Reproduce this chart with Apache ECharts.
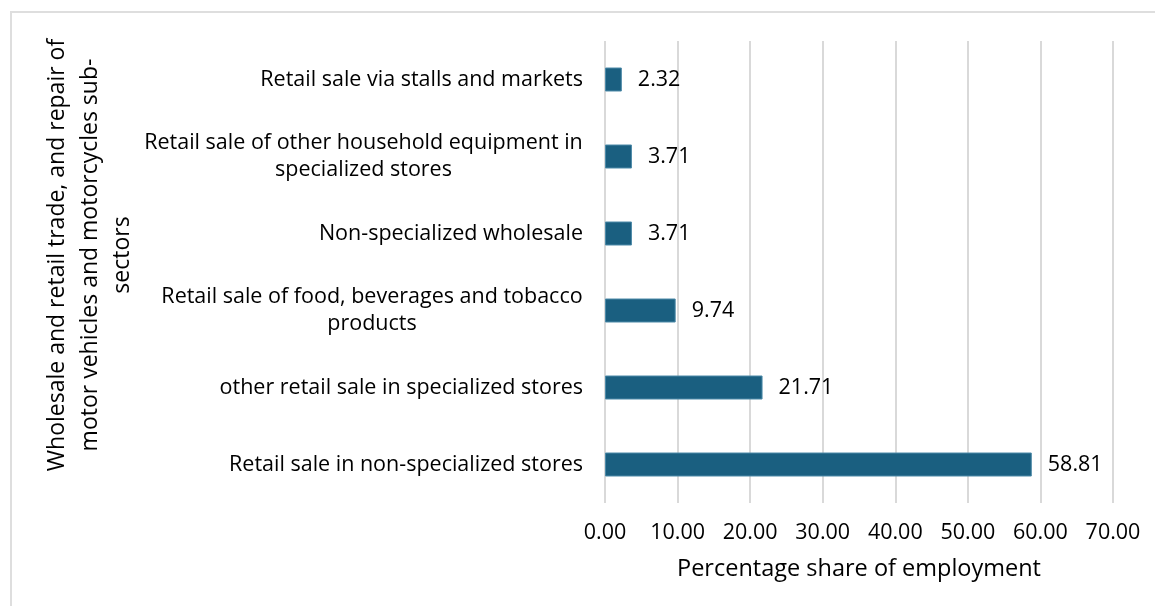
<!DOCTYPE html>
<html>
<head>
<meta charset="utf-8">
<style>
  html, body { margin: 0; padding: 0; background: #fff; overflow: hidden; }
  #frame { position: absolute; left: 10px; top: 11px; width: 1200px; height: 650px; border: 2px solid #dedede; box-sizing: border-box; }
  #chart { position: absolute; left: 0; top: 0; width: 1155px; height: 606px; }
</style>
<script src="https://cdn.jsdelivr.net/npm/echarts@6/dist/echarts.min.js"></script>
</head>
<body>
<div id="frame"></div>
<div id="chart"></div>
<script>
// categories bottom -> top (Excel draws first category at the bottom)
const categories = [
  'Retail sale in non-specialized stores',
  'other retail sale in specialized stores',
  'Retail sale of food, beverages and tobacco\nproducts',
  'Non-specialized wholesale',
  'Retail sale of other household equipment in\nspecialized stores',
  'Retail sale via stalls and markets'
]
const shares = [58.81, 21.71, 9.74, 3.71, 3.71, 2.32]
const xName = 'Percentage share of employment'
const yName = 'Wholesale and retail trade, and repair of\nmotor vehicles and motorcycles sub-\nsectors'

const FONT = 'Open Sans, Liberation Sans, sans-serif'
const labelSize = 21.5

// multi-line labels are centred inside their block, block sits right-aligned
const ctx = document.createElement('canvas').getContext('2d')
ctx.font = labelSize + 'px ' + FONT
const rich = {}
const labelText = {}
categories.forEach((c, i) =>
{
  const lines = c.split('\n')
  if (lines.length === 1)
  {
    labelText[c] = c
    return
  }
  const w = Math.ceil(Math.max(...lines.map(l => ctx.measureText(l).width)))
  rich['l' + i] = { width: w, align: 'center', fontSize: labelSize, fontFamily: FONT, color: '#000', lineHeight: 27 }
  labelText[c] = lines.map(l => '{l' + i + '|' + l + '}').join('\n')
})

const chart = echarts.init(document.getElementById('chart'))
chart.setOption({
  animation: false,
  grid: { left: 605, right: 42, top: 41, bottom: 103, outerBoundsMode: 'none', containLabel: false },
  xAxis: {
    type: 'value',
    min: 0,
    max: 70,
    interval: 10,
    name: xName,
    nameLocation: 'middle',
    nameGap: 54,
    nameTextStyle: { fontSize: 23.5, color: '#000', fontFamily: FONT },
    axisLine: { show: false },
    axisTick: { show: false },
    axisLabel: {
      fontSize: labelSize,
      color: '#000',
      fontFamily: FONT,
      margin: 19,
      formatter: v => v.toFixed(2)
    },
    splitLine: { show: true, lineStyle: { color: '#d9d9d9', width: 2 } }
  },
  yAxis: {
    type: 'category',
    data: categories,
    name: yName,
    nameLocation: 'middle',
    nameRotate: 90,
    nameGap: 466,
    nameTextStyle: { fontSize: 23, color: '#000', fontFamily: FONT, lineHeight: 32.5, align: 'center', padding: [0, 0, 0, 34] },
    axisLine: { show: false },
    axisTick: { show: false },
    axisLabel: {
      fontSize: labelSize,
      color: '#000',
      fontFamily: FONT,
      margin: 22,
      lineHeight: 27,
      formatter: v => labelText[v],
      rich
    }
  },
  series: [{
    type: 'bar',
    data: shares,
    barWidth: 24,
    itemStyle: { color: '#1a5f80', borderColor: '#4d8aa8', borderWidth: 1 },
    label: {
      show: true,
      position: 'right',
      distance: 16,
      fontSize: labelSize,
      color: '#000',
      fontFamily: FONT,
      formatter: p => p.value.toFixed(2)
    }
  }]
})
</script>
</body>
</html>
